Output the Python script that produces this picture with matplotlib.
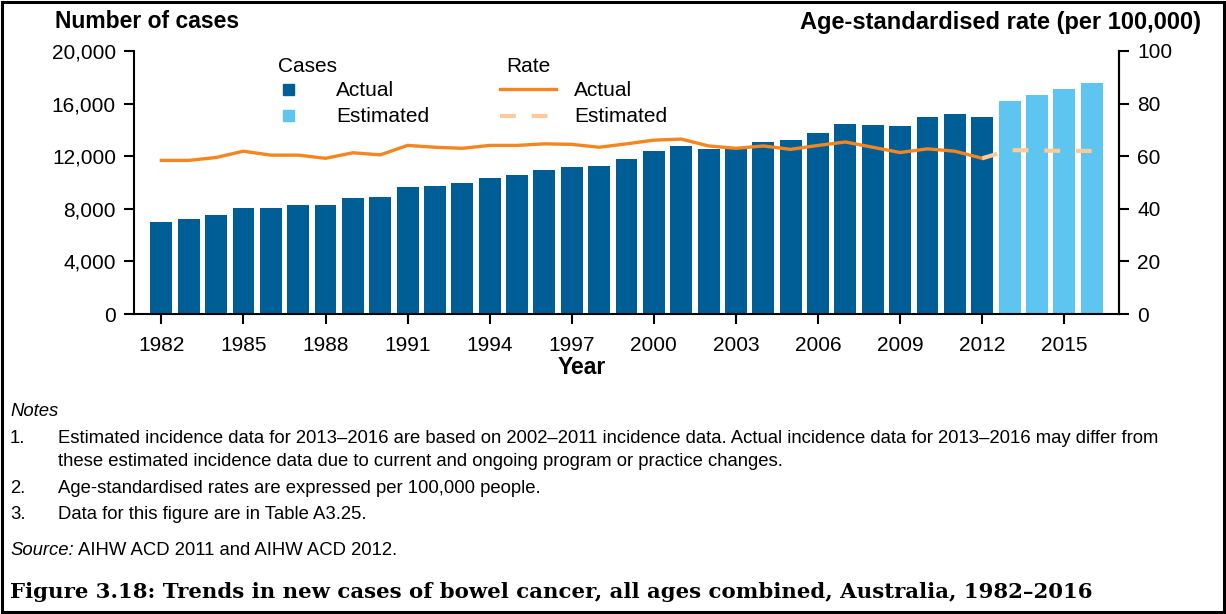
import matplotlib.pyplot as plt
from matplotlib.patches import Rectangle
from matplotlib.lines import Line2D

plt.rcParams['font.family'] = ['Liberation Sans', 'DejaVu Sans']

# данные
years_actual = list(range(1982, 2013))
years_est = list(range(2013, 2017))
cases_actual = [6970, 7200, 7530, 8040, 8040, 8270, 8270, 8800, 8880, 9640,
                9720, 9950, 10330, 10560, 10940, 11170, 11240, 11780, 12390, 12770,
                12540, 12560, 13080, 13230, 13760, 14450, 14370, 14300, 14980, 15210,
                14980]
cases_est = [16200, 16660, 17120, 17580]
rate_actual = [58.4, 58.4, 59.5, 61.9, 60.4, 60.4, 59.2, 61.3, 60.5, 64.1,
               63.4, 63.0, 64.1, 64.1, 64.7, 64.5, 63.4, 64.7, 66.1, 66.5,
               63.9, 63.0, 63.9, 62.6, 64.1, 65.4, 63.4, 61.4, 62.8, 61.9,
               59.2]
rate_est = [62.3, 62.2, 62.0, 62.0]
xticks = list(range(1982, 2017, 3))
yticks_left = [0, 4000, 8000, 12000, 16000, 20000]
yticks_right = [0, 20, 40, 60, 80, 100]

notes = [
    ("1.", ["Estimated incidence data for 2013\u20132016 are based on 2002\u20132011 incidence data. Actual incidence data for 2013\u20132016 may differ from",
            "these estimated incidence data due to current and ongoing program or practice changes."]),
    ("2.", ["Age-standardised rates are expressed per 100,000 people."]),
    ("3.", ["Data for this figure are in Table A3.25."]),
]

dark_blue = '#005E97'
light_blue = '#5EC4F0'
orange = '#F5861F'
light_orange = '#FDCA98'

W, H = 1226, 614
fig = plt.figure(figsize=(W / 100, H / 100), dpi=100)

def fx(px):
    return px / W

def fy(py):
    return 1 - py / H

ax = fig.add_axes([fx(134), fy(314), fx(1119) - fx(134), fy(51) - fy(314)])
ax.bar(years_actual, cases_actual, width=0.8, color=dark_blue, zorder=2)
ax.bar(years_est, cases_est, width=0.8, color=light_blue, zorder=2)
ax.set_xlim(1981.0, 2017.0)
ax.set_ylim(0, 20000)
ax.set_xticks(xticks)
ax.set_yticks(yticks_left)
ax.set_yticklabels([f"{v:,}" for v in yticks_left])
ax.spines['top'].set_visible(False)
for s in ['left', 'bottom', 'right']:
    ax.spines[s].set_linewidth(1.5)
ax.tick_params(axis='both', labelsize=15, length=7, width=1.5, direction='out', pad=6)
ax.tick_params(axis='x', pad=9)

ax2 = ax.twinx()
ax2.set_ylim(0, 100)
ax2.set_yticks(yticks_right)
ax2.plot(years_actual, rate_actual, color=orange, lw=2.4, solid_joinstyle='miter')
ax2.plot([years_actual[-1]] + years_est, [rate_actual[-1]] + rate_est,
         color=light_orange, lw=3, dashes=(3.8, 3.8))
ax2.spines['top'].set_visible(False)
ax2.spines['left'].set_visible(False)
ax2.spines['bottom'].set_visible(False)
ax2.spines['right'].set_linewidth(1.5)
ax2.tick_params(axis='y', labelsize=15, length=7, width=1.5, direction='out', pad=6)

# подписи осей
fig.text(fx(55), fy(22), "Number of cases", fontsize=16.5, fontweight='bold', va='center', ha='left')
fig.text(fx(1201), fy(22), "Age-standardised rate (per 100,000)", fontsize=17,
         fontweight='bold', va='center', ha='right')
fig.text(fx(582), fy(368), "Year", fontsize=16.5, fontweight='bold', va='center', ha='center')

# легенда
fig.text(fx(278), fy(67), "Cases", fontsize=15, va='center')
fig.text(fx(506), fy(67), "Rate", fontsize=15, va='center')
fig.add_artist(Rectangle((fx(283), fy(95)), fx(11), 11 / H, color=dark_blue))
fig.add_artist(Rectangle((fx(283), fy(121)), fx(11), 11 / H, color=light_blue))
fig.text(fx(336), fy(90), "Actual", fontsize=15, va='center')
fig.text(fx(336), fy(116), "Estimated", fontsize=15, va='center')
fig.add_artist(Line2D([fx(500), fx(556)], [fy(89), fy(89)], color=orange, lw=2.4))
fig.add_artist(Line2D([fx(500), fx(548)], [fy(116), fy(116)], color=light_orange, lw=3,
                      dashes=(3.8, 3.8)))
fig.text(fx(574), fy(90), "Actual", fontsize=15, va='center')
fig.text(fx(574), fy(116), "Estimated", fontsize=15, va='center')

# примечания
fs = 13.3
fig.text(fx(10), fy(416), "Notes", fontsize=fs, style='italic', va='baseline')
line_y = [[443, 466], [493], [519]]
for (num, lines), ys in zip(notes, line_y):
    fig.text(fx(10), fy(ys[0]), num, fontsize=fs, va='baseline')
    for txt, y in zip(lines, ys):
        fig.text(fx(58), fy(y), txt, fontsize=fs, va='baseline')
fig.text(fx(10), fy(555), "Source:", fontsize=fs, style='italic', va='baseline')
fig.text(fx(78), fy(555), "AIHW ACD 2011 and AIHW ACD 2012.", fontsize=fs, va='baseline')

fig.text(fx(10), fy(598),
         "Figure 3.18: Trends in new cases of bowel cancer, all ages combined, Australia, 1982\u20132016",
         fontsize=15.3, fontweight='bold', family='DejaVu Serif', va='baseline')

fig.add_artist(Rectangle((fx(2), fy(612)), fx(1222), 610 / H, fill=False, lw=2.2, color='black'))

fig.savefig('out.png', dpi=100)
